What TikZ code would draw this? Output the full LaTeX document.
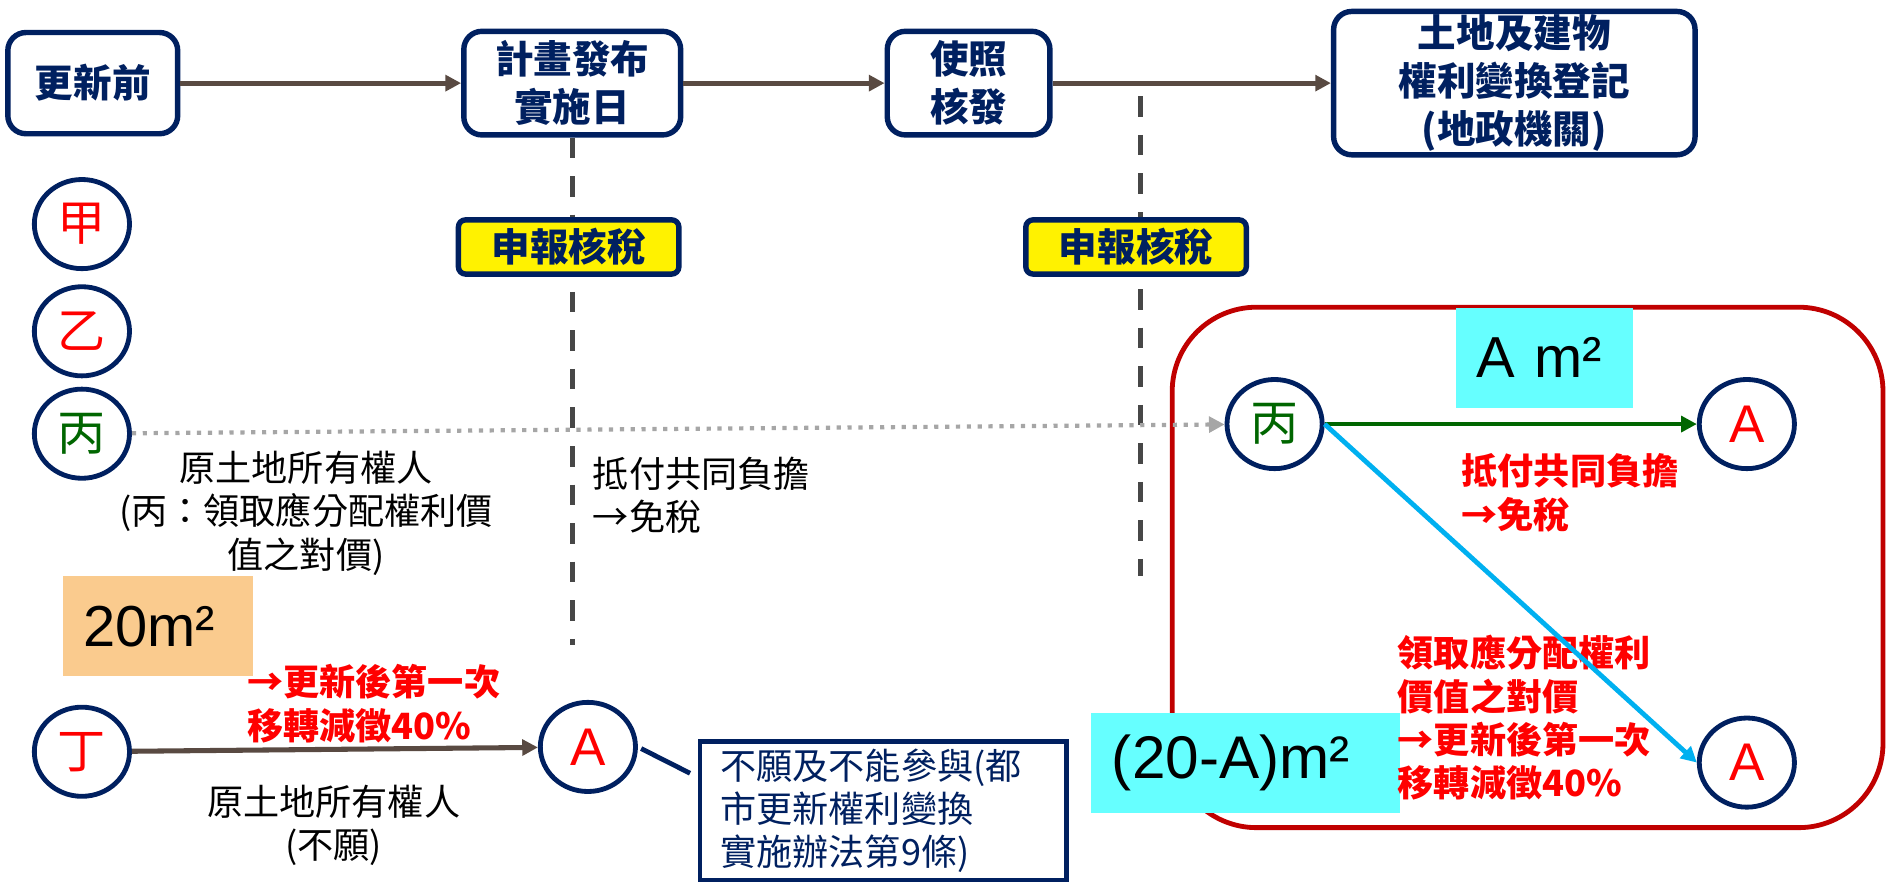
\documentclass[tikz,border=0pt]{standalone}
\usepackage{fontspec}
\setmainfont{Noto Sans CJK TC}
\newfontfamily\arialfont{Liberation Sans}
\usetikzlibrary{shapes.geometric,arrows.meta}
\definecolor{navy}{HTML}{002060}
\definecolor{flowbrown}{HTML}{594A42}
\definecolor{cutgray}{HTML}{474747}
\definecolor{fadegray}{HTML}{A6A6A6}
\definecolor{keepgreen}{HTML}{006600}
\definecolor{cashblue}{HTML}{00B0F0}
\definecolor{framered}{HTML}{C00000}
\definecolor{areacyan}{HTML}{66FFFF}
\definecolor{areaorange}{HTML}{FACB8E}

\begin{document}
\begin{tikzpicture}[x=1pt,y=-1pt,>={Stealth[length=13pt,width=13pt,inset=0pt]},
    stage/.style={draw=navy,line width=4.5pt,rounded corners=15pt,fill=white,text=navy,
      font=\fontsize{32}{40}\selectfont\bfseries,align=center,inner sep=0pt},
    taxbox/.style={draw=navy,line width=4.5pt,rounded corners=6pt,fill=yellow,text=navy,
      font=\fontsize{32}{40}\selectfont\bfseries,minimum width=183pt,minimum height=45pt,inner sep=0pt},
    owner/.style={ellipse,draw=navy,line width=4pt,fill=white,minimum width=79pt,
      minimum height=74pt,inner sep=0pt,font=\fontsize{40}{44}\selectfont},
    lot/.style={owner,text=red,font=\arialfont\fontsize{44}{48}\selectfont},
    area/.style={inner xsep=17pt,inner ysep=0pt,minimum height=83pt,align=left,
      font=\arialfont\fontsize{48}{56}\selectfont},
    memo/.style={inner sep=0pt,font=\fontsize{30}{36}\selectfont},
    hint/.style={memo,text=red,font=\fontsize{30}{36}\selectfont\bfseries,align=left,anchor=west},
    flow/.style={->,draw=flowbrown,line width=4.2pt},
    cut/.style={draw=cutgray,line width=4pt,dash pattern=on 17pt off 15pt}]
  \useasboundingbox (0,0) rectangle (1568,735);

  \node[stage,minimum width=141pt,minimum height=84pt] (pre) at (77,69) {更新前};
  \node[stage,minimum width=180pt,minimum height=86pt] (plan) at (475,69) {計畫發布\\實施日};
  \node[stage,minimum width=135pt,minimum height=86pt] (lic) at (804,69) {使照\\核發};
  \node[stage,minimum width=300pt,minimum height=119pt] (reg) at (1257,69) {土地及建物\\權利變換登記\\(地政機關)};
  \draw[flow] (pre) -- (plan);
  \draw[flow] (plan) -- (lic);
  \draw[flow] (lic) -- (reg);

  \coordinate (planEnd) at (475,535);
  \coordinate (licTop) at (947,80);
  \coordinate (licEnd) at (947,478);
  \draw[cut] (plan.south) -- (planEnd);
  \draw[cut] (licTop) -- (licEnd);
  \node[taxbox] (planTax) at (472,205) {申報核稅};
  \node[taxbox] (licTax) at (943,205) {申報核稅};

  \draw[framered,line width=4pt,rounded corners=70pt] (973,255) rectangle (1563,687);

  \node[owner,text=red] (jia) at (68,186) {甲};
  \node[owner,text=red] (yi) at (68,275) {乙};
  \node[owner,text=keepgreen] (bing) at (68,360) {丙};
  \node[owner,text=red] (ding) at (68,624) {丁};
  \node[lot] (dingA) at (488,620) {A};
  \node[owner,text=keepgreen] (bingNew) at (1058,352) {丙};
  \node[lot] (shareA) at (1450,352) {A};
  \node[lot] (cashA) at (1450,633) {A};

  \node[area,fill=areaorange,text width=124pt] (oldArea) at (131,520) {20m²};
  \node[area,fill=areacyan,text width=113pt] (shareArea) at (1282,297) {A m²};
  \node[area,fill=areacyan,text width=222pt,font=\arialfont\fontsize{50}{56}\selectfont] (cashArea) at (1034,633) {(20-A)m²};

  \node[memo,align=center] (bingText) at (254,426) {原土地所有權人\\(丙：領取應分配權利價\\值之對價)};
  \node[memo,align=left,anchor=west] (offText) at (492,411) {抵付共同負擔\\→免稅};
  \node[hint] (dingCut) at (205,584) {→更新後第一次\\移轉減徵40\%};
  \node[memo,align=center] (dingText) at (277,685) {原土地所有權人\\(不願)};
  \node[memo,draw=navy,line width=4pt,text=navy,inner xsep=17pt,text width=270pt,align=left,
    minimum height=115pt] (refuse) at (733,673) {不願及不能參與(都\\市更新權利變換\\實施辦法第9條)};
  \node[hint] (shareHint) at (1213,409) {抵付共同負擔\\→免稅};
  \node[hint] (cashHint) at (1160,596) {領取應分配權利\\價值之對價\\→更新後第一次\\移轉減徵40\%};

  \draw[->,fadegray,line width=3.5pt,dash pattern=on 3.5pt off 5.5pt] (bing) -- (bingNew);
  \draw[flow] (ding) -- (dingA);
  \draw[navy,line width=4pt,shorten <=3pt,shorten >=7pt] (dingA.east) -- ([yshift=28pt]refuse.west);
  \draw[->,keepgreen,line width=4pt] (bingNew) -- (shareA);
  \draw[->,cashblue,line width=4pt] (bingNew.east) -- (cashA.west);
\end{tikzpicture}
\end{document}
